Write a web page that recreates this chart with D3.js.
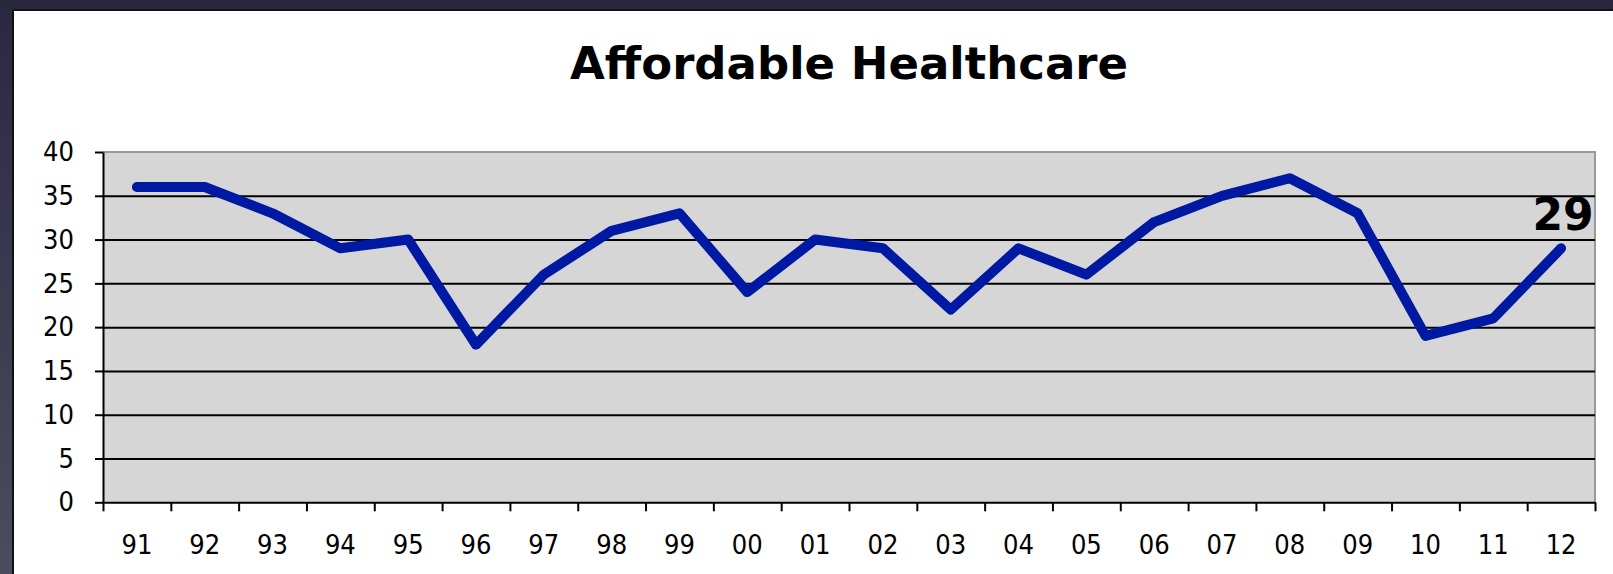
<!DOCTYPE html>
<html>
<head>
<meta charset="utf-8">
<script src="https://cdn.jsdelivr.net/npm/d3@7"></script>
<style>
  body { margin: 0; background: #2c2b44; }
  svg { display: block; }
</style>
</head>
<body>
<div class="chart"></div>
<script>
var years = ["91", "92", "93", "94", "95", "96", "97", "98", "99", "00", "01",
  "02", "03", "04", "05", "06", "07", "08", "09", "10", "11", "12"];
var values = [36, 36, 33, 29, 30, 18, 26, 31, 33, 24, 30,
  29, 22, 29, 26, 32, 35, 37, 33, 19, 21, 29];
var yTicks = [0, 5, 10, 15, 20, 25, 30, 35, 40];
var chartTitle = "Affordable Healthcare";

var svgWidth = 1613;
var svgHeight = 574;

var margin = { top: 152, right: 18, bottom: 72, left: 103 };
var width = svgWidth - margin.left - margin.right;
var height = svgHeight - margin.top - margin.bottom + 0.3;

var tickFont = "'DejaVu Sans Condensed', 'DejaVu Sans', Tahoma, sans-serif";
var boldFont = "'DejaVu Sans', Verdana, sans-serif";

var svg = d3.select(".chart")
  .append("svg")
  .attr("width", svgWidth)
  .attr("height", svgHeight);

// dark slide background
var grad = svg.append("defs").append("linearGradient")
  .attr("id", "bg")
  .attr("x1", 0).attr("y1", 0).attr("x2", 0).attr("y2", 1);
grad.append("stop").attr("offset", "0%").attr("stop-color", "#29283f");
grad.append("stop").attr("offset", "100%").attr("stop-color", "#4c4c60");

svg.append("rect")
  .attr("width", svgWidth)
  .attr("height", svgHeight)
  .attr("fill", "url(#bg)");

// white chart panel
svg.append("rect")
  .attr("x", 13)
  .attr("y", 10)
  .attr("width", svgWidth)
  .attr("height", svgHeight)
  .attr("fill", "#ffffff")
  .attr("stroke", "#111")
  .attr("stroke-width", 2);

svg.append("text")
  .attr("x", margin.left + width / 2)
  .attr("y", 79)
  .attr("text-anchor", "middle")
  .style("font-family", boldFont)
  .style("font-weight", "bold")
  .style("font-size", "45px")
  .attr("fill", "#000")
  .text(chartTitle);

var chartGroup = svg.append("g")
  .attr("transform", `translate(${margin.left}, ${margin.top})`);

var xBand = d3.scaleBand()
  .domain(years)
  .range([0, width]);

var xEdge = d3.scaleLinear()
  .domain([0, years.length])
  .range([0, width]);

var yLinearScale = d3.scaleLinear()
  .domain([0, 40])
  .range([height, 0]);

// plot area
chartGroup.append("rect")
  .attr("width", width)
  .attr("height", height)
  .attr("fill", "#d6d6d6");

chartGroup.append("path")
  .attr("d", `M0,0H${width}V${height}`)
  .attr("fill", "none")
  .attr("stroke", "#999")
  .attr("stroke-width", 2);

// gridlines
chartGroup.append("g")
  .classed("grid", true)
  .call(d3.axisLeft(yLinearScale)
    .tickValues(yTicks.filter(d => d > 0 && d < 40))
    .tickSize(-width)
    .tickFormat(""))
  .call(g => g.select(".domain").remove())
  .selectAll("line")
  .attr("stroke", "#000")
  .attr("stroke-width", 2);

var leftAxis = d3.axisLeft(yLinearScale)
  .tickValues(yTicks)
  .tickSize(8)
  .tickPadding(21)
  .tickSizeOuter(0);

var yAxis = chartGroup.append("g")
  .classed("y-axis", true)
  .call(leftAxis);

yAxis.select(".domain").attr("stroke", "#000").attr("stroke-width", 2);
yAxis.selectAll("line").attr("stroke", "#000").attr("stroke-width", 2);
yAxis.selectAll("text")
  .style("font-family", tickFont)
  .style("font-size", "27px")
  .attr("fill", "#000");

// x axis: ticks on the category edges, labels in the middle
var edgeAxis = d3.axisBottom(xEdge)
  .tickValues(d3.range(years.length + 1))
  .tickSize(9)
  .tickSizeOuter(0)
  .tickFormat("");

var xAxis = chartGroup.append("g")
  .classed("x-axis", true)
  .attr("transform", `translate(0, ${height})`)
  .call(edgeAxis);

xAxis.select(".domain").attr("stroke", "#000").attr("stroke-width", 2);
xAxis.selectAll("line").attr("stroke", "#000").attr("stroke-width", 2);

var labelAxis = d3.axisBottom(xBand)
  .tickSize(0)
  .tickPadding(33);

var xLabels = chartGroup.append("g")
  .attr("transform", `translate(0, ${height})`)
  .call(labelAxis);

xLabels.select(".domain").remove();
xLabels.selectAll("text")
  .style("font-family", tickFont)
  .style("font-size", "27px")
  .attr("fill", "#000");

// the series line
var line = d3.line()
  .x((d, i) => xBand(years[i]) + xBand.bandwidth() / 2)
  .y(d => yLinearScale(d));

chartGroup.append("path")
  .datum(values)
  .attr("d", line)
  .attr("fill", "none")
  .attr("stroke", "#0019a3")
  .attr("stroke-width", 10)
  .attr("stroke-linecap", "round")
  .attr("stroke-linejoin", "round");

// label on the last point
var last = values.length - 1;
chartGroup.append("text")
  .attr("x", xBand(years[last]) + xBand.bandwidth() / 2 + 2)
  .attr("y", yLinearScale(values[last]) - 18)
  .attr("text-anchor", "middle")
  .style("font-family", boldFont)
  .style("font-weight", "bold")
  .style("font-size", "44px")
  .attr("fill", "#000")
  .text(values[last]);
</script>
</body>
</html>
